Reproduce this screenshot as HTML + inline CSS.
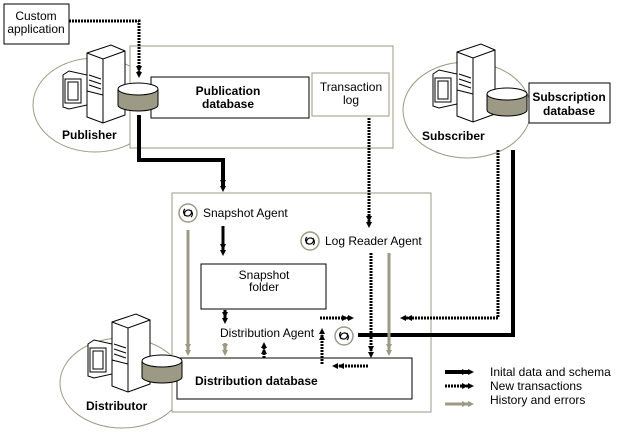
<!DOCTYPE html>
<html><head><style>body{margin:0;background:#fff}svg{display:block}text{font-family:"Liberation Sans",sans-serif;font-size:12px;fill:#000}.b{font-weight:bold}</style></head><body>
<svg width="628" height="432" viewBox="0 0 628 432" xmlns="http://www.w3.org/2000/svg">
<defs>
<marker id="ab" markerWidth="12" markerHeight="6" refX="6" refY="3" orient="auto" markerUnits="userSpaceOnUse"><path d="M0,0L6,3L0,6zM6,0L12,3L6,6z" fill="#000"/></marker>
<marker id="ag" markerWidth="12" markerHeight="6" refX="6" refY="3" orient="auto" markerUnits="userSpaceOnUse"><path d="M0,0L6,3L0,6zM6,0L12,3L6,6z" fill="#9c9a84"/></marker>
<g id="srv">
<path d="M0,30 L6,26 L24,30 L24,60 L6,64 L0,62z" fill="#fff" stroke="#000"/>
<rect x="2" y="34" width="16" height="24" fill="#fff" stroke="#000"/>
<rect x="5" y="37" width="10" height="18" fill="#fff" stroke="#000"/>
<path d="M24,8 L48,0 L62,6 L62,70 L40,78 L24,72z" fill="#fff" stroke="#000"/>
<path d="M24,8 L40,14 L62,6 M40,14 L40,78" fill="none" stroke="#000"/>
<path d="M26,30 L38,34 M26,35 L38,39 M26,40 L38,44 M24,46 L40,50" stroke="#000"/>
</g>
<g id="cyl">
<path d="M0,6 L0,22 A20,6 0 0 0 40,22 L40,6" fill="#9c9a84" stroke="#000"/>
<ellipse cx="20" cy="6" rx="20" ry="6" fill="#fff" stroke="#000"/>
</g>
<g id="ico"><circle cx="0" cy="0" r="9" fill="#fff" stroke="#9c9a84" stroke-width="1.5"/><path d="M-3,-4 A4,4 0 1 0 3,-3 M3,4 A4,4 0 1 0 -3,3" fill="none" stroke="#000" stroke-width="1.2"/></g>
</defs>
<ellipse cx="95" cy="105" rx="62" ry="47" fill="none" stroke="#9c9a84"/>
<ellipse cx="467" cy="110" rx="64" ry="48" fill="none" stroke="#9c9a84"/>
<ellipse cx="122" cy="383" rx="62" ry="45" fill="none" stroke="#9c9a84"/>
<rect x="130" y="46" width="263" height="102" fill="#fff" stroke="#9c9a84"/>
<rect x="172" y="193" width="259" height="219" fill="#fff" stroke="#9c9a84"/>
<rect x="4" y="4" width="65" height="40" fill="#fff" stroke="#000"/>
<text x="36" y="20" text-anchor="middle">Custom</text><text x="36" y="33" text-anchor="middle">application</text>
<rect x="151" y="77" width="158" height="41" fill="#fff" stroke="#000"/>
<text x="228" y="95" text-anchor="middle" class="b">Publication</text><text x="228" y="108" text-anchor="middle" class="b">database</text>
<rect x="312" y="73" width="77" height="43" fill="#fff" stroke="#9c9a84"/>
<text x="351" y="91" text-anchor="middle">Transaction</text><text x="351" y="104" text-anchor="middle">log</text>
<rect x="529" y="83" width="81" height="40" fill="#fff" stroke="#000"/>
<text x="569" y="101" text-anchor="middle" class="b">Subscription</text><text x="569" y="115" text-anchor="middle" class="b">database</text>
<rect x="201" y="264" width="125" height="45" fill="#fff" stroke="#000"/>
<text x="264" y="279" text-anchor="middle">Snapshot</text><text x="264" y="291" text-anchor="middle">folder</text>
<rect x="177" y="358" width="235" height="41" fill="#fff" stroke="#000"/>
<text x="195" y="385" class="b">Distribution database</text>
<use href="#srv" x="63" y="45"/><use href="#cyl" x="118" y="83"/>
<text x="62" y="139" class="b">Publisher</text>
<use href="#srv" x="433" y="44"/><use href="#cyl" x="487" y="88"/>
<text x="422" y="140" class="b">Subscriber</text>
<use href="#srv" x="88" y="314"/><use href="#cyl" x="142" y="355"/>
<text x="86" y="410" class="b">Distributor</text>
<use href="#ico" x="188" y="213"/><text x="203" y="217">Snapshot Agent</text>
<use href="#ico" x="310" y="241"/><text x="325" y="245">Log Reader Agent</text>
<text x="220" y="337">Distribution Agent</text>
<use href="#ico" x="344" y="336"/>
<path d="M139,115 V160 H223 V186" fill="none" stroke="#000" stroke-width="4" marker-end="url(#ab)"/>
<path d="M223,226 V250" stroke="#000" stroke-width="3" marker-end="url(#ab)"/>
<path d="M225,310 V318" stroke="#000" stroke-width="3" marker-end="url(#ab)"/>
<path d="M358,335 H513 V150" fill="none" stroke="#000" stroke-width="4"/>
<path d="M69,21 H139 V72" fill="none" stroke="#000" stroke-width="3" stroke-dasharray="2,1" marker-end="url(#ab)"/>
<path d="M369,118 V222" fill="none" stroke="#000" stroke-width="3" stroke-dasharray="2,1" marker-end="url(#ab)"/>
<path d="M371,253 V352" fill="none" stroke="#000" stroke-width="3" stroke-dasharray="2,1" marker-end="url(#ab)"/>
<path d="M368,366 H338" fill="none" stroke="#000" stroke-width="3" stroke-dasharray="2,1" marker-end="url(#ab)"/>
<path d="M322,364 V334" fill="none" stroke="#000" stroke-width="3" stroke-dasharray="2,1" marker-end="url(#ab)"/>
<path d="M320,318 H348" fill="none" stroke="#000" stroke-width="3" stroke-dasharray="2,1" marker-end="url(#ab)"/>
<path d="M498,150 V318 H406" fill="none" stroke="#000" stroke-width="3" stroke-dasharray="2,1" marker-end="url(#ab)"/>
<path d="M264,358 V348" fill="none" stroke="#000" stroke-width="3" stroke-dasharray="2,1" marker-end="url(#ab)"/>
<path d="M188,230 V350" stroke="#9c9a84" stroke-width="3" marker-end="url(#ag)"/>
<path d="M225,343 V350" stroke="#9c9a84" stroke-width="3" marker-end="url(#ag)"/>
<path d="M389,253 V350" stroke="#9c9a84" stroke-width="3" marker-end="url(#ag)"/>
<path d="M445,372 H468" stroke="#000" stroke-width="4" marker-end="url(#ab)"/>
<path d="M445,386 H468" stroke="#000" stroke-width="3" stroke-dasharray="2,1" marker-end="url(#ab)"/>
<path d="M445,404 H468" stroke="#9c9a84" stroke-width="3" marker-end="url(#ag)"/>
<text x="490" y="376">Inital data and schema</text>
<text x="490" y="390">New transactions</text>
<text x="490" y="404">History and errors</text>
</svg>
</body></html>
